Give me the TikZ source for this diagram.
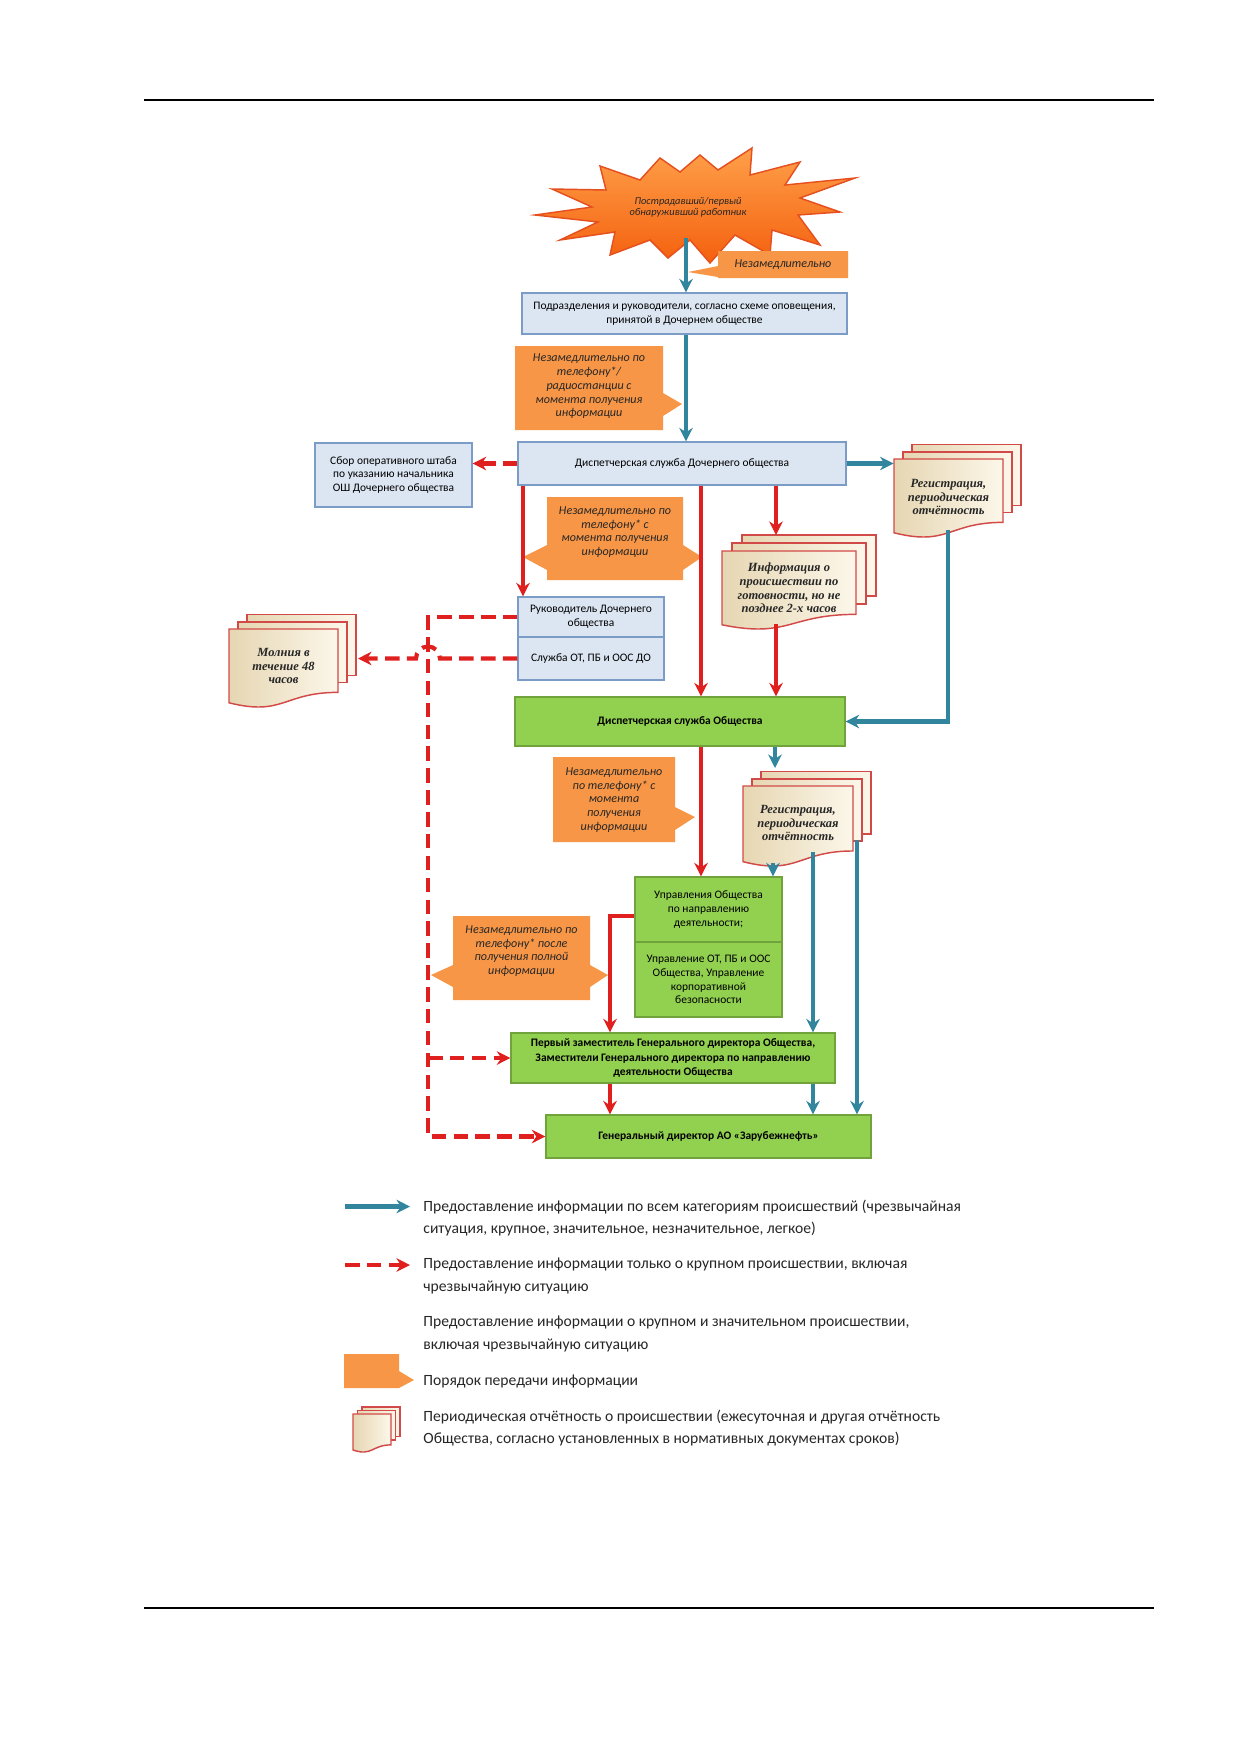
\documentclass[tikz,border=0pt]{standalone}
\usepackage{fontspec}
\setmainfont{Carlito}
\newfontfamily\docserif{Liberation Serif}
\usetikzlibrary{
    arrows.meta
}

\definecolor{boxfill}{HTML}{DCE6F2}
\definecolor{boxline}{HTML}{7A9CC6}
\definecolor{grnfill}{HTML}{92D050}
\definecolor{grnline}{HTML}{71A33C}
\definecolor{callorange}{HTML}{F79646}
\definecolor{infoteal}{HTML}{31859C}
\definecolor{alertred}{HTML}{E0201F}
\definecolor{docred}{HTML}{D24A48}
\definecolor{docdark}{HTML}{E6D6B2}
\definecolor{doclight}{HTML}{FCF7EA}
\definecolor{starlight}{HTML}{FFA04A}
\definecolor{stardark}{HTML}{F4600E}
\definecolor{starline}{HTML}{E5501E}

\newcommand{\boxfont}{\fontsize{5.5}{6.6}\selectfont}
\newcommand{\boldboxfont}{\fontsize{5.5}{6.8}\selectfont\bfseries}
\newcommand{\callfont}{\fontsize{5.8}{6.6}\selectfont\itshape}
\newcommand{\docfont}{\docserif\fontsize{6}{6.5}\selectfont\bfseries\itshape}
\newcommand{\legfont}{\fontsize{7.5}{10.7}\selectfont}
\newcommand{\starfont}{\fontsize{5}{5.3}\selectfont\itshape}

% pages of a report: x, y of the front page, width, height, offset
\newcommand{\docstack}[5]{%
  \path[docpage] ({#1+2*#5},{#2-1.6*#5}) rectangle ({#1+#3+2*#5},{#2-1.6*#5+0.77*#4});
  \path[docpage] ({#1+#5},{#2-0.8*#5}) rectangle ({#1+#3+#5},{#2-0.8*#5+0.77*#4});
  \path[docpage] (#1,#2) -- ({#1+#3},#2) -- ({#1+#3},{#2+0.802*#4})
    .. controls ({#1+0.5*#3},{#2+0.802*#4}) and ({#1+0.5*#3},{#2+1.1075*#4}) .. (#1,{#2+0.934*#4}) -- cycle;
}

\tikzset{
    wh/.style 2 args={minimum width=#1*0.48pt, minimum height=#2*0.48pt},
    bluebox/.style={draw=boxline, fill=boxfill, line width=0.6pt, align=center, font=\boxfont, inner sep=1pt},
    grnbox/.style={draw=grnline, fill=grnfill, line width=0.6pt, align=center, font=\boxfont, inner sep=1pt},
    grnbold/.style={grnbox, font=\boldboxfont},
    callfill/.style={fill=callorange},
    calltext/.style={align=center, font=\callfont, text=black!85, inner sep=0pt},
    docpage/.style={draw=docred, line width=0.7pt, left color=docdark, right color=doclight},
    doctext/.style={align=center, font=\docfont, text=black!85, inner sep=0pt},
    legtext/.style={anchor=west, align=left, font=\legfont, text=black!85, inner sep=0pt},
    tarrow/.style={draw=infoteal, line width=2pt, -{Stealth[length=6.5pt,width=6.5pt]}},
    rarrow/.style={draw=alertred, line width=2pt, -{Stealth[length=6.5pt,width=6.5pt]}},
    darrow/.style={rarrow, dash pattern=on 7pt off 3.5pt}
}

\begin{document}
\begin{tikzpicture}[x=0.48pt,y=-0.48pt]

\useasboundingbox (0,0) rectangle (1239,1754);

\draw[line width=0.8pt] (144,100) -- (1154,100);
\draw[line width=0.8pt] (144,1608) -- (1154,1608);

\path[draw=starline, line width=0.7pt, top color=starlight, bottom color=stardark]
    (535,215) -- (592,207) -- (552,189) -- (606,190) -- (600,166) -- (640,180)
    -- (660,158) -- (680,172) -- (700,155) -- (718,170) -- (752,148) -- (750,175)
    -- (800,162) -- (785,185) -- (855,178) -- (800,198) -- (840,212) -- (798,215)
    -- (820,245) -- (772,230) -- (770,255) -- (735,235) -- (710,263) -- (690,240)
    -- (668,258) -- (650,240) -- (610,255) -- (615,232) -- (560,240) -- (598,222) -- cycle;
\node[font=\starfont, align=center, text=black!85, inner sep=0pt] (star) at (688,207)
    {Пострадавший/первый\\обнаруживший работник};

\fill[callfill] (718,251) -- (848,251) -- (848,278) -- (718,278) -- (718,277)
    -- (688,272) -- (718,266) -- cycle;
\fill[callfill] (515,346) -- (663,346) -- (663,393) -- (682,404) -- (663,416)
    -- (663,430) -- (515,430) -- cycle;
\fill[callfill] (547,497) -- (683,497) -- (683,545) -- (702,557) -- (683,570)
    -- (683,580) -- (547,580) -- (547,570) -- (523,557) -- (547,545) -- cycle;
\fill[callfill] (553,757) -- (675,757) -- (675,807) -- (695,817) -- (675,830)
    -- (675,842) -- (553,842) -- cycle;
\fill[callfill] (453,916) -- (590,916) -- (590,965) -- (608,975) -- (590,987)
    -- (590,1000) -- (453,1000) -- (453,987) -- (431,975) -- (453,965) -- cycle;

\node[calltext] (c1) at (783,264.5) {Незамедлительно};
\node[calltext] (c2) at (589,386.5) {Незамедлительно по\\телефону*/\\радиостанции с\\момента получения\\информации};
\node[calltext] (c3) at (615,532) {Незамедлительно по\\телефону* с\\момента получения\\информации};
\node[calltext] (c4) at (614,800) {Незамедлительно\\по телефону* с\\момента\\получения\\информации};
\node[calltext] (c5) at (521.5,951) {Незамедлительно по\\телефону* после\\получения полной\\информации};

\node[bluebox, wh={325}{41}] (sub) at (684.5,313.5)
    {Подразделения и руководители, согласно схеме оповещения,\\принятой в Дочернем обществе};
\node[bluebox, wh={328}{43}] (dispdo) at (682,463.5) {Диспетчерская служба Дочернего общества};
\node[bluebox, wh={157}{64}] (shtab) at (393.5,475)
    {Сбор оперативного штаба\\по указанию начальника\\ОШ Дочернего общества};
\node[bluebox, wh={146}{40}] (ruk) at (591,617) {Руководитель Дочернего\\общества};
\node[bluebox, wh={146}{43}] (slot) at (591,658.5) {Служба ОТ, ПБ и ООС ДО};
\node[grnbold, wh={330}{49}] (dispo) at (680,721.5) {Диспетчерская служба Общества};
\node[grnbox, wh={147}{65}] (upr1) at (708.5,909.5) {Управления Общества\\по направлению\\деятельности;};
\node[grnbox, wh={147}{75}] (upr2) at (708.5,979.5)
    {Управление ОТ, ПБ и ООС\\Общества, Управление\\корпоративной\\безопасности};
\node[grnbold, wh={324}{50}] (perv) at (673,1058)
    {Первый заместитель Генерального директора Общества,\\Заместители Генерального директора по направлению\\деятельности Общества};
\node[grnbold, wh={325}{43}] (gen) at (708.5,1136.5) {Генеральный директор АО «Зарубежнефть»};

\docstack{894}{459}{109}{79}{9}
\node[doctext, wh={109}{63}] (reg1) at (948.5,497) {Регистрация,\\периодическая\\отчётность};
\docstack{722}{551}{134}{79}{10}
\node[doctext, wh={134}{63}] (info) at (789,588) {Информация о\\происшествии по\\готовности, но не\\позднее 2-х часов};
\docstack{743}{786}{110}{81}{9}
\node[doctext, wh={110}{65}] (reg2) at (798,823) {Регистрация,\\периодическая\\отчётность};
\docstack{229}{629}{109}{79}{9}
\node[doctext, wh={109}{63}] (mol) at (283.5,666) {Молния в\\течение 48\\часов};

\coordinate (starbot) at (686,238);
\coordinate (xa) at (523,0);
\coordinate (xb) at (701,0);
\coordinate (xc) at (776,0);
\coordinate (xd) at (775,0);
\coordinate (xe) at (610,0);
\coordinate (xf) at (428,0);
\coordinate (xg) at (440,0);
\coordinate (molx) at (358,0);
\coordinate (infotop) at (776,535);
\coordinate (infobot) at (776,624);
\coordinate (reg1bot) at (948,530);
\coordinate (reg2top) at (775,768);
\coordinate (reg2bot) at (773,863);
\coordinate (reg2mid) at (813,852);
\coordinate (reg2back) at (857,840);

\draw[tarrow] (starbot) -- (starbot |- sub.north);
\draw[tarrow] (starbot |- sub.south) -- (starbot |- dispdo.north);
\draw[darrow] (dispdo.west) -- (dispdo.west -| shtab.east);
\draw[tarrow] (dispdo.east) -- (dispdo.east -| reg1.west);
\draw[rarrow] (xa |- dispdo.south) -- (xa |- ruk.north);
\draw[rarrow] (xb |- dispdo.south) -- (xb |- dispo.north);
\draw[rarrow] (xc |- dispdo.south) -- (infotop);
\draw[rarrow] (infobot) -- (xc |- dispo.north);
\draw[tarrow] (reg1bot) |- (dispo.east);
\draw[rarrow] (xb |- dispo.south) -- (xb |- upr1.north);
\draw[tarrow] (xd |- dispo.south) -- (reg2top);
\draw[tarrow] (reg2bot) -- (reg2bot |- upr1.north);
\draw[tarrow] (reg2mid) -- (reg2mid |- perv.north);
\draw[tarrow] (reg2mid |- perv.south) -- (reg2mid |- gen.north);
\draw[tarrow] (reg2back) -- (reg2back |- gen.north);
\draw[rarrow] ([yshift=-3pt]upr1.west) -| (xe |- perv.north);
\draw[rarrow] (xe |- perv.south) -- (xe |- gen.north);
\draw[darrow] (ruk.west) -- (ruk.west -| xf) -- (xf |- gen.west) -- (gen.west);
\draw[darrow] (xf |- perv.west) -- (perv.west);
\draw[darrow] (slot.west) -- (slot.west -| xg) arc[start angle=0, end angle=-180, radius=12]
    -- (slot.west -| molx);

\coordinate (lg1a) at (345,1206.5);
\coordinate (lg1b) at (410,1206.5);
\coordinate (lg2a) at (345,1265);
\coordinate (lg2b) at (410,1265);
\draw[tarrow] (lg1a) -- (lg1b);
\draw[darrow] (lg2a) -- (lg2b);
\fill[callfill] (344,1354) -- (399,1354) -- (399,1371) -- (414,1380) -- (399,1388) -- (344,1388) -- cycle;
\begin{scope}[line width=0.5pt]
\docstack{353}{1414}{38}{38.5}{4.5}
\end{scope}

\node[legtext] (lt1) at (423,1218) {Предоставление информации по всем категориям происшествий (чрезвычайная\\ситуация, крупное, значительное, незначительное, легкое)};
\node[legtext] (lt2) at (423,1276) {Предоставление информации только о крупном происшествии, включая\\чрезвычайную ситуацию};
\node[legtext] (lt3) at (423,1334) {Предоставление информации о крупном и значительном происшествии,\\включая чрезвычайную ситуацию};
\node[legtext] (lt4) at (423,1381) {Порядок передачи информации};
\node[legtext] (lt5) at (423,1428) {Периодическая отчётность о происшествии (ежесуточная и другая отчётность\\Общества, согласно установленных в нормативных документах сроков)};

\end{tikzpicture}
\end{document}
